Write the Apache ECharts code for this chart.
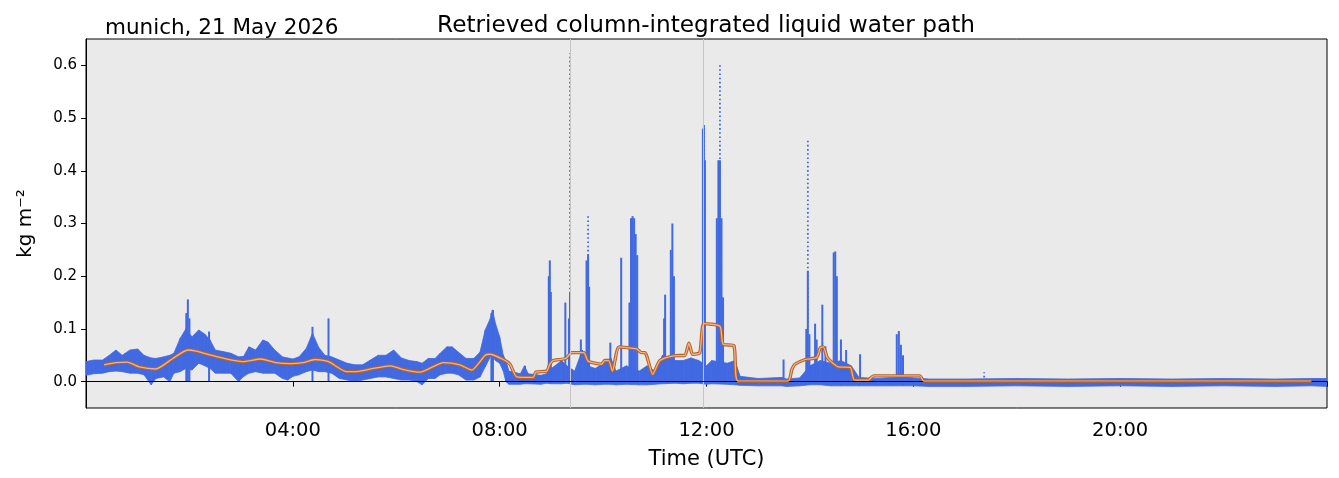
<!DOCTYPE html>
<html>
<head>
<meta charset="utf-8">
<script src="https://cdn.jsdelivr.net/npm/echarts@6/dist/echarts.min.js"></script>
<style>
  html, body { margin: 0; padding: 0; background: #fff; }
  #chart { width: 1339px; height: 478px; }
</style>
</head>
<body>
<div id="chart"></div>
<script>
// time in hours (UTC), liquid water path in kg m-2

// spread of the retrieved values: lower / upper edge of the point cloud
const bandTime = [
  0, 0.15, 0.32, 0.45, 0.58, 0.7, 0.85, 1.0, 1.12, 1.26, 1.35, 1.5, 1.62, 1.7, 1.82, 1.93,
  2.05, 2.18, 2.3, 2.4, 2.5, 2.65, 2.8, 2.95, 3.05, 3.15, 3.28, 3.42, 3.52, 3.65, 3.8, 3.9,
  4.0, 4.12, 4.26, 4.38, 4.5, 4.62, 4.75, 4.9, 5.05, 5.2, 5.35, 5.5, 5.65, 5.8, 5.95,
  6.1, 6.25, 6.4, 6.5, 6.62, 6.75, 6.85, 6.98, 7.08, 7.2, 7.35, 7.5, 7.62, 7.72, 7.82, 7.86, 7.92, 8.0, 8.07,
  8.12, 8.18, 8.4, 8.48, 8.55, 8.8, 8.9, 9.0, 9.2, 9.3, 9.45, 9.6, 9.7, 9.85, 10.0, 10.15, 10.25, 10.45, 10.7, 10.85, 11.0, 11.15, 11.4, 11.55, 11.7, 11.85, 12.0, 12.1, 12.4, 12.55, 12.65,
  13.0, 13.45, 13.55, 13.8, 14.0, 14.2, 14.4, 14.6, 14.8, 14.95, 15.3, 15.6, 15.8, 16.0, 16.3, 17, 18, 19, 20, 21, 22, 23, 23.7, 24
]
const bandLow = [
  0.012, 0.015, 0.016, 0.019, 0.02, 0.019, 0.016, 0.016, 0.013, -0.006, 0.006, 0.009, 0.0, 0.016, 0.019, 0.025,
  0.022, 0.035, 0.03, 0.025, 0.016, 0.016, 0.016, 0.0, 0.01, 0.016, 0.019, 0.016, 0.016, 0.016, 0.006, 0.003,
  0.01, 0.013, 0.019, 0.022, 0.019, 0.019, 0.016, 0.006, 0.003, 0.0, 0.003, 0.006, 0.009, 0.009, 0.006,
  0.003, 0.003, 0.0, -0.006, 0.006, 0.006, 0.013, 0.016, 0.016, 0.013, 0.003, 0.003, 0.009, 0.028, 0.047, 0.047, 0.04, 0.035, 0.02,
  0.0, -0.005, -0.005, -0.004, -0.004, -0.005, -0.003, -0.004, -0.004, -0.003, -0.006, -0.005, -0.005, -0.006, -0.005, -0.005, -0.006, -0.005, -0.006, -0.006, -0.005, -0.004, -0.003, -0.004, -0.003, -0.003, -0.005, -0.004, -0.005, -0.006, -0.007,
  -0.008, -0.008, -0.009, -0.008, -0.006, -0.006, -0.008, -0.008, -0.008, -0.008, -0.008, -0.008, -0.008, -0.008, -0.009, -0.009, -0.008, -0.009, -0.008, -0.009, -0.008, -0.009, -0.008, -0.009
]
const bandHigh = [
  0.038, 0.041, 0.041, 0.05, 0.06, 0.05, 0.06, 0.062, 0.05, 0.045, 0.044, 0.047, 0.05, 0.054, 0.082, 0.1,
  0.085, 0.098, 0.09, 0.079, 0.06, 0.057, 0.054, 0.047, 0.048, 0.066, 0.06, 0.079, 0.075, 0.06, 0.047, 0.045,
  0.043, 0.047, 0.063, 0.092, 0.065, 0.05, 0.047, 0.041, 0.035, 0.032, 0.032, 0.041, 0.05, 0.05, 0.06,
  0.045, 0.04, 0.038, 0.035, 0.044, 0.044, 0.054, 0.066, 0.066, 0.056, 0.044, 0.044, 0.056, 0.098, 0.12, 0.136, 0.11, 0.085, 0.05,
  0.04, 0.02, 0.015, 0.03, 0.015, 0.012, 0.015, 0.025, 0.04, 0.03, 0.02, 0.06, 0.03, 0.025, 0.035, 0.045, 0.02, 0.03, 0.02, 0.03, 0.02, 0.05, 0.04, 0.04, 0.045, 0.04, 0.03, 0.04, 0.035, 0.04, 0.01,
  0.006, 0.008, 0.005, 0.007, 0.03, 0.04, 0.035, 0.04, 0.03, 0.008, 0.006, 0.008, 0.01, 0.007, 0.005, 0.005, 0.006, 0.005, 0.006, 0.005, 0.006, 0.005, 0.006, 0.006
]

// short bursts where the points are packed into a solid column
const spikeTime = [
  1.94, 1.97, 2.0, 2.38, 4.38, 4.69, 7.84, 7.87, 8.49, 8.95, 8.97, 8.99, 9.27, 9.34, 9.36, 9.57,
  9.68, 9.71, 9.73, 10.14, 10.35, 10.51, 10.54, 10.57, 10.6, 10.63, 10.66, 11.18, 11.2, 11.31, 11.34, 11.37,
  11.93, 11.95, 11.97, 12.2, 12.23, 12.26, 12.29, 12.32, 13.49, 13.93, 13.96, 13.99, 14.1, 14.13, 14.24, 14.3,
  14.46, 14.49, 14.52, 14.6, 14.7, 14.97, 15.68, 15.72, 15.76, 15.8
]
const spikeTop = [
  0.13, 0.156, 0.12, 0.095, 0.104, 0.12, 0.13, 0.136, 0.03, 0.2, 0.23, 0.17, 0.15, 0.12, 0.17, 0.08,
  0.23, 0.24, 0.18, 0.074, 0.235, 0.15, 0.31, 0.314, 0.31, 0.28, 0.24, 0.12, 0.165, 0.25, 0.3, 0.2,
  0.48, 0.487, 0.42, 0.31, 0.42, 0.42, 0.31, 0.16, 0.042, 0.1, 0.21, 0.09, 0.11, 0.08, 0.146, 0.067,
  0.245, 0.247, 0.2, 0.08, 0.06, 0.052, 0.09, 0.096, 0.07, 0.05
]

// tall bursts with scattered single points
const sparseTime = [9.36, 9.71, 11.95, 12.26, 13.96, 17.37]
const sparseTop = [0.623, 0.317, 0.487, 0.6, 0.46, 0.018]

// smoothed (running mean) curve
const smoothTime = [
  0.35, 0.58, 0.8, 1.03, 1.35, 1.68, 1.97, 2.13, 2.39, 2.71, 3.03, 3.38, 3.67, 3.95, 4.2,
  4.43, 4.69, 5.04, 5.24, 5.56, 5.88, 6.14, 6.46, 6.91, 7.23, 7.46, 7.72, 7.81, 8.07, 8.2,
  8.33, 8.65, 8.7, 8.91, 8.97, 9.03, 9.28, 9.39, 9.63, 9.71, 9.97, 10.03, 10.11, 10.18, 10.31,
  10.65, 10.74, 10.81, 10.96, 11.1, 11.36, 11.58, 11.66, 11.73, 11.87, 11.95, 12.26, 12.32, 12.53, 12.61,
  13.58, 13.65, 13.71, 13.91, 14.13, 14.2, 14.26, 14.34, 14.55, 14.78, 14.86, 15.13, 15.23, 16.13, 16.2, 23.7
]
const smoothValue = [
  0.032, 0.036, 0.037, 0.028, 0.024, 0.044, 0.06, 0.058, 0.051, 0.043, 0.038, 0.043, 0.036, 0.034, 0.036,
  0.042, 0.038, 0.019, 0.019, 0.025, 0.03, 0.023, 0.018, 0.036, 0.032, 0.022, 0.05, 0.052, 0.042, 0.033,
  0.009, 0.008, 0.018, 0.02, 0.033, 0.04, 0.044, 0.055, 0.055, 0.039, 0.033, 0.04, 0.04, 0.02, 0.066,
  0.062, 0.055, 0.055, 0.014, 0.04, 0.049, 0.05, 0.073, 0.052, 0.055, 0.11, 0.105, 0.071, 0.068, 0.001,
  0.001, 0.023, 0.033, 0.042, 0.046, 0.064, 0.066, 0.045, 0.028, 0.027, 0.003, 0.003, 0.011, 0.011, 0.001, 0.001
]

// faint vertical marker lines
const vlineTimes = [9.36, 11.94]

// axis ticks
const xTickHours = [0, 4, 8, 12, 16, 20, 24]
const xTickLabels = ['', '04:00', '08:00', '12:00', '16:00', '20:00', '']
const yTicks = [0, 0.1, 0.2, 0.3, 0.4, 0.5, 0.6]

const BLUE = '#4169E1'
const FONT = 'DejaVu Sans'

const chart = echarts.init(document.getElementById('chart'))

const option = {
  animation: false,
  textStyle: { fontFamily: FONT },
  graphic: [
    {
      type: 'text',
      x: 706,
      y: 14,
      style: {
        text: 'Retrieved column-integrated liquid water path',
        fontFamily: FONT,
        fontSize: 23.2,
        fill: '#000',
        textAlign: 'center',
        textVerticalAlign: 'top'
      }
    },
    {
      type: 'text',
      x: 105,
      y: 17,
      style: {
        text: 'munich, 21 May 2026',
        fontFamily: FONT,
        fontSize: 21.5,
        fill: '#000',
        textAlign: 'left',
        textVerticalAlign: 'top'
      }
    }
  ],
  grid: {
    left: 86,
    right: 12,
    top: 39,
    bottom: 70,
    show: true,
    backgroundColor: '#EAEAEA',
    borderColor: '#000',
    borderWidth: 1
  },
  xAxis: {
    type: 'value',
    min: 0,
    max: 24,
    interval: 4,
    name: 'Time (UTC)',
    nameLocation: 'middle',
    nameGap: 41,
    nameTextStyle: { fontSize: 21, color: '#000', fontFamily: FONT },
    axisLine: { lineStyle: { color: '#000', width: 1 } },
    axisTick: { length: 5, lineStyle: { color: '#000' } },
    axisLabel: {
      fontSize: 19.5,
      color: '#000',
      margin: 13,
      formatter: function (v) {
        const i = xTickHours.indexOf(v)
        return i >= 0 ? xTickLabels[i] : ''
      }
    },
    splitLine: { show: false }
  },
  yAxis: {
    type: 'value',
    min: -0.05,
    max: 0.65,
    name: 'kg m\u207B\u00B2',
    nameLocation: 'middle',
    nameGap: 50,
    nameRotate: 90,
    nameTextStyle: { fontSize: 20, color: '#000', fontFamily: FONT },
    axisLine: { lineStyle: { color: '#000', width: 1 } },
    axisTick: { length: 5, lineStyle: { color: '#000' }, customValues: yTicks },
    axisLabel: {
      fontSize: 15,
      color: '#000',
      margin: 9,
      customValues: yTicks,
      formatter: function (v) { return v.toFixed(1) }
    },
    splitLine: { show: false }
  },
  series: [
    {
      // vertical marker lines
      type: 'line',
      data: [],
      z: 1,
      markLine: {
        silent: true,
        symbol: 'none',
        label: { show: false },
        lineStyle: { color: '#c6c6c6', width: 1, type: 'solid' },
        data: vlineTimes.map(t => ({ xAxis: t }))
      }
    },
    {
      // spread of the point cloud
      type: 'custom',
      z: 2,
      clip: true,
      data: bandTime.map((t, i) => [t, bandLow[i], bandHigh[i]]),
      encode: { x: 0, y: [1, 2] },
      renderItem: function (params, api) {
        const i = params.dataIndex
        if (i >= bandTime.length - 1) return
        const p1 = api.coord([bandTime[i], bandLow[i]])
        const p2 = api.coord([bandTime[i + 1], bandLow[i + 1]])
        const p3 = api.coord([bandTime[i + 1], bandHigh[i + 1]])
        const p4 = api.coord([bandTime[i], bandHigh[i]])
        return {
          type: 'polygon',
          shape: { points: [p1, p2, p3, p4] },
          style: { fill: BLUE, stroke: BLUE, lineWidth: 0.8 }
        }
      }
    },
    {
      // dense bursts
      type: 'custom',
      z: 2,
      clip: true,
      data: spikeTime.map((t, i) => [t, spikeTop[i]]),
      encode: { x: 0, y: 1 },
      renderItem: function (params, api) {
        const base = api.coord([api.value(0), 0])
        const top = api.coord([api.value(0), api.value(1)])
        return {
          type: 'rect',
          shape: { x: base[0] - 1, y: top[1], width: 2, height: base[1] - top[1] },
          style: { fill: BLUE }
        }
      }
    },
    {
      // scattered tall bursts
      type: 'custom',
      z: 2,
      clip: true,
      data: sparseTime.map((t, i) => [t, sparseTop[i]]),
      encode: { x: 0, y: 1 },
      renderItem: function (params, api) {
        const base = api.coord([api.value(0), 0])
        const top = api.coord([api.value(0), api.value(1)])
        return {
          type: 'line',
          shape: { x1: top[0], y1: base[1], x2: top[0], y2: top[1] },
          style: { stroke: BLUE, lineWidth: 1.8, lineDash: [1.6, 2.6] }
        }
      }
    },
    {
      // zero line
      type: 'line',
      data: [],
      z: 3,
      markLine: {
        silent: true,
        symbol: 'none',
        label: { show: false },
        lineStyle: { color: '#000', width: 1.2, type: 'solid' },
        data: [{ yAxis: 0 }]
      }
    },
    {
      type: 'line',
      z: 4,
      showSymbol: false,
      smooth: 0.2,
      data: smoothTime.map((t, i) => [t, smoothValue[i]]),
      lineStyle: { color: '#b5622a', width: 3.4 }
    },
    {
      type: 'line',
      z: 5,
      showSymbol: false,
      smooth: 0.2,
      data: smoothTime.map((t, i) => [t, smoothValue[i]]),
      lineStyle: { color: '#f3b283', width: 1.3 }
    }
  ]
}

chart.setOption(option)
window.addEventListener('resize', function () {
  chart.resize()
})
</script>
</body>
</html>
